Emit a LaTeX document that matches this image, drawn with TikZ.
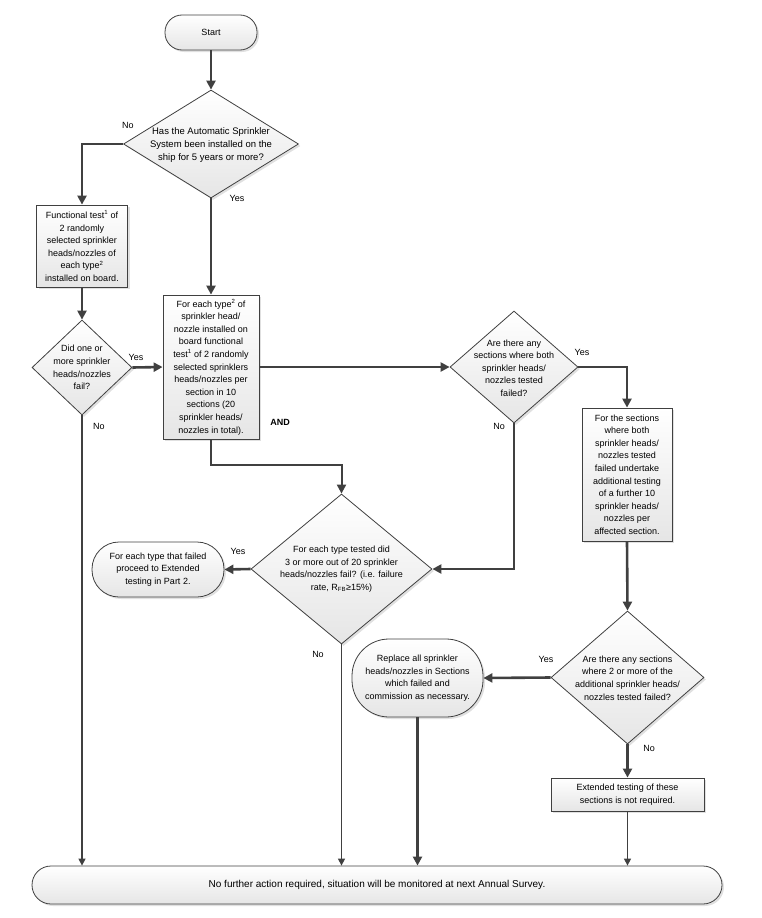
\documentclass[tikz,border=0pt]{standalone}
\usepackage{fontspec}
\setmainfont{Liberation Sans}
\usetikzlibrary{arrows.meta,shapes.geometric,shadows}
\definecolor{ln}{HTML}{404040}
\begin{document}
\begin{tikzpicture}[x=1pt,y=-1pt,
  every node/.style={font=\fontsize{9}{12.6}\selectfont},
  shp/.style={draw=ln, line width=0.8pt, top color=white, bottom color=black!10,
    drop shadow={shadow xshift=2pt, shadow yshift=-2pt, fill=black!20, opacity=0.6}},
  boxn/.style={shp, rectangle, inner sep=0pt, align=center},
  term/.style={shp, rectangle, inner sep=0pt, align=center},
  dia/.style={shp, diamond, inner sep=0pt},
  dtext/.style={align=center, inner sep=0pt},
  thick arrow/.style={draw=ln, line width=2.6pt, -{Triangle[length=9pt,width=9pt]}},
  med arrow/.style={draw=ln, line width=2pt, -{Triangle[length=9pt,width=9pt]}},
  thin arrow/.style={draw=ln, line width=1.3pt, -{Triangle[length=7pt,width=7pt]}},
  lbl/.style={inner sep=0pt, font=\fontsize{9}{11}\selectfont}
]
\useasboundingbox (0,0) rectangle (762,918);

% Nodes
\node[term, minimum width=92pt, minimum height=35pt, rounded corners=17pt] (start) at (211,32.5) {Start};

\node[dia, minimum width=175pt, minimum height=108pt] (d1) at (211,144) {};
\node[dtext, font=\fontsize{9.5}{13}\selectfont] (d1t) at (211,145) {Has the Automatic Sprinkler\\System been installed on the\\ship for 5 years or more?};

\node[boxn, minimum width=91pt, minimum height=82pt] (b1) at (82,246) {Functional test\textsuperscript{1} of\\2 randomly\\selected sprinkler\\heads/nozzles of\\each type\textsuperscript{2}\\installed on board.};

\node[dia, minimum width=100pt, minimum height=95pt] (d2) at (82,367.5) {};
\node[dtext] (d2t) at (82,367.5) {Did one or\\more sprinkler\\heads/nozzles\\fail?};

\node[boxn, minimum width=96pt, minimum height=144pt] (b2) at (211,367) {For each type\textsuperscript{2} of\\sprinkler head/\\nozzle installed on\\board functional\\test\textsuperscript{1} of 2 randomly\\selected sprinklers\\heads/nozzles per\\section in 10\\sections (20\\sprinkler heads/\\nozzles in total).};

\node[dia, minimum width=128pt, minimum height=112pt] (d3) at (514,367) {};
\node[dtext] (d3t) at (514,368) {Are there any\\sections where both\\sprinkler heads/\\nozzles tested\\failed?};

\node[boxn, minimum width=90pt, minimum height=133pt] (b3) at (627,474.5) {For the sections\\where both\\sprinkler heads/\\nozzles tested\\failed undertake\\additional testing\\of a further 10\\sprinkler heads/\\nozzles per\\affected section.};

\node[dia, minimum width=181pt, minimum height=150pt] (d4) at (341.5,569) {};
\node[dtext] (d4t) at (341.5,569) {For each type tested did\\3 or more out of 20 sprinkler\\heads/nozzles fail? (i.e. failure\\rate, R\textsubscript{FB}≥15\%)};

\node[term, minimum width=132pt, minimum height=55pt, rounded corners=27pt] (t1) at (158,569.5) {For each type that failed\\proceed to Extended\\testing in Part 2.};

\node[dia, minimum width=153pt, minimum height=133pt] (d5) at (627.5,677.5) {};
\node[dtext] (d5t) at (627.5,678) {Are there any sections\\where 2 or more of the\\additional sprinkler heads/\\nozzles tested failed?};

\node[term, minimum width=131pt, minimum height=78pt, rounded corners=37pt] (t2) at (417.5,678) {Replace all sprinkler\\heads/nozzles in Sections\\which failed and\\commission as necessary.};

\node[boxn, minimum width=153pt, minimum height=33pt] (b4) at (627.5,794.5) {Extended testing of these\\sections is not required.};

\node[term, minimum width=690pt, minimum height=38pt, rounded corners=19pt, font=\fontsize{10}{12}\selectfont] (fin) at (377,885) {No further action required, situation will be monitored at next Annual Survey.};

% Connectors
\draw[thick arrow] (start.south) -- (d1.north);
\draw[thick arrow] (d1.west) -| (b1.north);
\draw[thick arrow] (b1.south) -- (d2.north);
\draw[thick arrow] (d2.east) -- (b2.west);
\draw[thick arrow] (d1.south) -- (b2.north);
\draw[thin arrow] (d2.south) -- (d2.south |- fin.north);
\draw[thick arrow] (b2.east) -- (d3.west);
\draw[thick arrow] (d3.east) -| (b3.north);
\draw[med arrow] (b2.south) -- ++(0,26) -| (d4.north);
\draw[thick arrow] (d3.south) |- (d4.east);
\draw[thick arrow] (d4.west) -- (t1.east);
\draw[thin arrow] (d4.south) -- (d4.south |- fin.north);
\draw[thick arrow] (b3.south) -- (d5.north);
\draw[thick arrow] (d5.west) -- (t2.east);
\draw[thick arrow] (d5.south) -- (b4.north);
\draw[thick arrow] (t2.south) -- (t2.south |- fin.north);
\draw[thin arrow] (b4.south) -- (b4.south |- fin.north);

% Labels
\node[lbl] (l1) at (128,125) {No};
\node[lbl] (l2) at (237,198) {Yes};
\node[lbl] (l3) at (136,357) {Yes};
\node[lbl] (l4) at (99,426) {No};
\node[lbl, font=\bfseries\fontsize{9}{11}\selectfont] (l5) at (280,422) {AND};
\node[lbl] (l6) at (582,352) {Yes};
\node[lbl] (l7) at (499,426) {No};
\node[lbl] (l8) at (238,551) {Yes};
\node[lbl] (l9) at (318,654) {No};
\node[lbl] (l10) at (546,659) {Yes};
\node[lbl] (l11) at (649,748) {No};
\end{tikzpicture}
\end{document}
